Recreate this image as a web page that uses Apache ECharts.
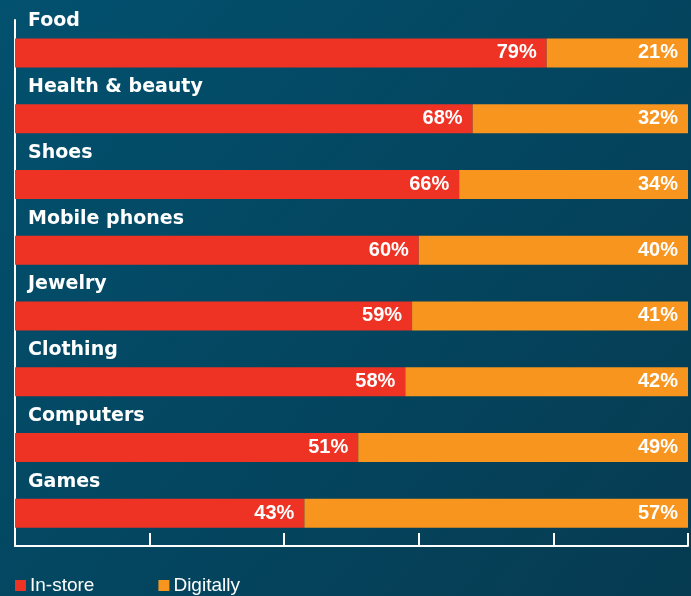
<!DOCTYPE html>
<html>
<head>
<meta charset="utf-8">
<script src="https://cdn.jsdelivr.net/npm/echarts@6/dist/echarts.min.js"></script>
<style>
html,body{margin:0;padding:0;}
#chart{width:691px;height:596px;}
</style>
</head>
<body>
<div id="chart"></div>
<script>
var categories = ["Food", "Health & beauty", "Shoes", "Mobile phones", "Jewelry", "Clothing", "Computers", "Games"];
var inStore = [79, 68, 66, 60, 59, 58, 51, 43];
var digitally = [21, 32, 34, 40, 41, 42, 49, 57];
var totals = categories.map(function(c, i){ return inStore[i] + digitally[i]; });

var chart = echarts.init(document.getElementById('chart'), null, {renderer: 'canvas'});
var valueLabel = {
  show: true,
  position: 'insideRight',
  distance: 10,
  color: '#ffffff',
  fontSize: 20,
  fontWeight: 'bold',
  fontFamily: 'Liberation Sans, Arial, sans-serif',
  formatter: '{c}%'
};
chart.setOption({
  backgroundColor: {
    type: 'linear', x: 0, y: 0, x2: 1, y2: 1,
    colorStops: [{offset: 0, color: '#02516f'}, {offset: 1, color: '#063b51'}]
  },
  animation: false,
  grid: {left: 15, right: 3, top: 20, bottom: 50, containLabel: false},
  legend: {
    data: ['In-store', 'Digitally'],
    left: 10, top: 571,
    itemWidth: 11, itemHeight: 11, itemGap: 64,
    icon: 'rect',
    textStyle: {color: '#ffffff', fontSize: 19, fontFamily: 'Liberation Sans, Arial, sans-serif', padding: [0,0,0,-1]}
  },
  xAxis: {
    type: 'value', min: 0, max: 100, interval: 20,
    axisLine: {show: true, lineStyle: {color: '#ffffff', width: 2}},
    axisTick: {show: true, inside: true, length: 13, lineStyle: {color: '#ffffff', width: 2}},
    axisLabel: {show: false},
    splitLine: {show: false}
  },
  yAxis: {
    type: 'category', data: categories, inverse: true,
    axisLine: {show: true, lineStyle: {color: '#ffffff', width: 2}},
    axisTick: {show: false},
    axisLabel: {show: false}
  },
  series: [
    {
      name: 'In-store', type: 'bar', stack: 'total', data: inStore,
      barWidth: 29, itemStyle: {color: '#ee3325'}, label: valueLabel
    },
    {
      name: 'Digitally', type: 'bar', stack: 'total', data: digitally,
      barWidth: 29, itemStyle: {color: '#f7951f'}, label: valueLabel
    },
    {
      name: 'names', type: 'bar', data: totals, barWidth: 29, barGap: '-100%',
      itemStyle: {color: 'rgba(0,0,0,0)'}, silent: true,
      label: {
        show: true, position: [13, -17], verticalAlign: 'middle', align: 'left',
        color: '#ffffff', fontSize: 19, fontWeight: 'bold',
        fontFamily: 'DejaVu Sans, sans-serif',
        formatter: function(p){ return p.name; }
      }
    }
  ]
});
</script>
</body>
</html>
